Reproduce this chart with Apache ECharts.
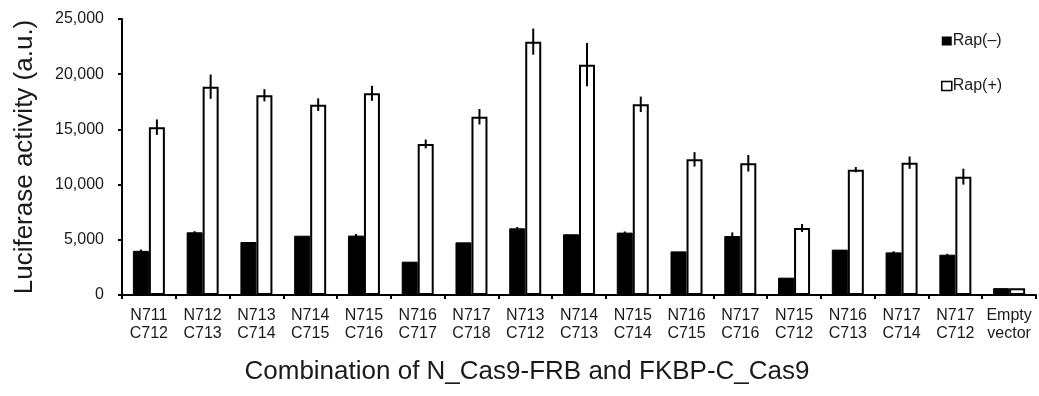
<!DOCTYPE html>
<html>
<head>
<meta charset="utf-8">
<script src="https://cdn.jsdelivr.net/npm/echarts@6/dist/echarts.min.js"></script>
<style>
html,body{margin:0;padding:0;background:#fff;}
#c{width:1039px;height:396px;}
</style>
</head>
<body>
<div id="c"></div>
<script>
var categories = ['N711\nC712','N712\nC713','N713\nC714','N714\nC715','N715\nC716','N716\nC717','N717\nC718','N713\nC712','N714\nC713','N715\nC714','N716\nC715','N717\nC716','N715\nC712','N716\nC713','N717\nC714','N717\nC712','Empty\nvector'];
var rapMinus = [4000, 5680, 4800, 5370, 5380, 3020, 4770, 6040, 5500, 5650, 3950, 5340, 1570, 4110, 3860, 3650, 620];
var rapMinusErr = [120, 100, 0, 0, 150, 0, 0, 120, 0, 100, 0, 330, 0, 0, 100, 80, 0];
var rapPlus = [15200, 18870, 18090, 17240, 18270, 13680, 16150, 22950, 20860, 17270, 12290, 11930, 6070, 11350, 11990, 10720, 620];
var rapPlusErr = [700, 1100, 550, 570, 680, 400, 700, 1180, 1960, 700, 650, 750, 360, 240, 560, 720, 0];
var yTicks = [0, 5000, 10000, 15000, 20000, 25000];
var seriesNames = ['Rap(–)', 'Rap(+)'];

var FONT = 'Liberation Sans, Arial, sans-serif';
var TXT = '#1a1a1a';

function errData(vals, errs){
  return vals.map(function(v, i){ return [i, v, errs[i]]; });
}
function errSeries(vals, errs, offset){
  return {
    type: 'custom',
    z: 10,
    silent: true,
    data: errData(vals, errs),
    renderItem: function(params, api){
      var i = api.value(0), v = api.value(1), e = api.value(2);
      if (!e) return null;
      var top = api.coord([i, v + e]);
      var bot = api.coord([i, v - e]);
      var x = top[0] + offset;
      return {
        type: 'line',
        shape: {x1: x, y1: top[1], x2: x, y2: bot[1]},
        style: {stroke: '#000', lineWidth: 2}
      };
    }
  };
}

var chart = echarts.init(document.getElementById('c'), null, {renderer: 'canvas'});
chart.setOption({
  animation: false,
  backgroundColor: '#fff',
  textStyle: {fontFamily: FONT, color: TXT},
  grid: {left: 122, right: 3, top: 19, bottom: 101, containLabel: false},
  legend: {
    orient: 'vertical',
    left: 936,
    top: 28,
    itemGap: 29,
    itemWidth: 10,
    itemHeight: 9,
    icon: 'rect',
    textStyle: {fontFamily: FONT, fontSize: 16, color: TXT, padding: [0,0,0,-4]},
    data: [
      {name: seriesNames[0], itemStyle: {color: '#000', borderColor: '#000', borderWidth: 0}},
      {name: seriesNames[1], itemStyle: {color: '#fff', borderColor: '#000', borderWidth: 1.5}}
    ]
  },
  xAxis: {
    type: 'category',
    data: categories,
    axisLine: {lineStyle: {color: '#000', width: 2}},
    axisTick: {show: true, length: 4, lineStyle: {color: '#000', width: 2}},
    axisLabel: {interval: 0, fontFamily: FONT, fontSize: 16, lineHeight: 18.5, color: TXT, margin: 11}
  },
  yAxis: {
    type: 'value',
    min: 0,
    max: 25000,
    interval: 5000,
    name: 'Luciferase activity (a.u.)',
    nameLocation: 'middle',
    nameGap: 84,
    nameTextStyle: {fontFamily: FONT, fontSize: 26, color: TXT},
    splitLine: {show: false},
    axisLine: {show: true, lineStyle: {color: '#000', width: 2}},
    axisTick: {show: true, length: 4, lineStyle: {color: '#000', width: 2}},
    axisLabel: {
      fontFamily: FONT, fontSize: 16, color: TXT, margin: 18,
      formatter: function(v){ return yTicks.indexOf(v) >= 0 ? v.toLocaleString('en-US') : ''; }
    }
  },
  graphic: [{
    type: 'text',
    x: 527,
    y: 372,
    style: {text: 'Combination of N_Cas9-FRB and FKBP-C_Cas9', font: '26px ' + FONT, fill: TXT, textAlign: 'center', textVerticalAlign: 'middle'}
  }],
  series: [
    {
      name: seriesNames[0], type: 'bar', data: rapMinus, barWidth: 16, barGap: '0%',
      itemStyle: {color: '#000', borderColor: '#000', borderWidth: 1}
    },
    {
      name: seriesNames[1], type: 'bar', data: rapPlus, barWidth: 16, barGap: '0%',
      itemStyle: {color: '#fff', borderColor: '#000', borderWidth: 2}
    },
    errSeries(rapMinus, rapMinusErr, -8),
    errSeries(rapPlus, rapPlusErr, 8)
  ]
});
</script>
</body>
</html>
